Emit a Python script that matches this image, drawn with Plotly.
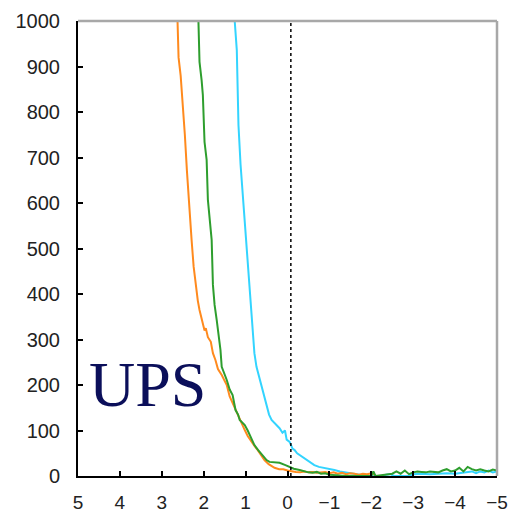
import plotly.graph_objects as go

# Three distributions plotted against a reversed x axis (5 .. -5)
cyan_x = [1.28, 1.26, 1.21, 1.17, 1.12, 1.07, 1.02, 0.98, 0.93, 0.88, 0.83, 0.79, 0.74, 0.69,
          0.63, 0.58, 0.50, 0.44, 0.38, 0.30, 0.19, 0.12, 0.06, 0.02, -0.05, -0.12, -0.17,
          -0.23, -0.29, -0.38, -0.48, -0.56, -0.64, -0.75, -0.88, -1.00, -1.12, -1.25, -1.4,
          -1.5, -1.6, -1.7, -1.8, -1.9, -2.3, -2.35, -2.45, -2.55, -2.9, -3.0, -3.2, -3.4,
          -3.6, -3.8, -4.0, -4.2, -4.4, -4.5, -4.6, -4.7, -4.8, -4.9, -5.0]
cyan_y = [1050, 1000, 936, 771, 684, 618, 560, 519, 457, 387, 321, 270, 240, 222,
          200, 180, 156, 135, 123, 115, 105, 95, 100, 80, 75, 60, 57,
          50, 46, 40, 35, 28, 24, 20, 18, 15, 13, 10, 8,
          6, 5, 3, 2, 0, 0, 3, 4, 0, 0, 4, 5, 4,
          5, 6, 5, 8, 10, 6, 10, 8, 12, 8, 10]

orange_x = [2.64, 2.62, 2.60, 2.55, 2.50, 2.45, 2.40, 2.36, 2.33, 2.29, 2.24, 2.19, 2.14,
            2.10, 2.05, 2.01, 1.98, 1.95, 1.90, 1.83, 1.78, 1.72, 1.66, 1.57, 1.50, 1.45,
            1.38, 1.31, 1.24, 1.17, 1.10, 1.02, 0.95, 0.86, 0.78, 0.71, 0.63, 0.55, 0.45,
            0.38, 0.31, 0.20, 0.10, 0.00, -0.10, -0.20, -0.30, -0.40, -0.50, -0.60, -0.70,
            -0.80, -0.90, -1.0, -1.1, -1.2, -1.3, -1.4, -1.5, -1.6, -1.7, -1.8, -1.9,
            -2.0, -2.07]
orange_y = [1050, 1000, 920, 880, 820, 750, 670, 610, 575, 520, 460, 420, 385,
            365, 345, 335, 320, 325, 305, 295, 270, 255, 235, 222, 208, 200,
            175, 160, 145, 130, 118, 101, 88, 75, 65, 57, 45, 35, 26,
            22, 18, 15, 15, 12, 10, 9, 8, 10, 8, 9, 7,
            8, 9, 6, 8, 5, 7, 4, 6, 5, 3, 5, 4,
            6, 3]

green_x = [2.14, 2.12, 2.10, 2.05, 2.02, 1.98, 1.93, 1.90, 1.86, 1.81, 1.78, 1.74, 1.69,
           1.64, 1.60, 1.57, 1.50, 1.45, 1.38, 1.31, 1.24, 1.18, 1.14, 1.08, 1.02, 0.95,
           0.90, 0.85, 0.79, 0.70, 0.60, 0.50, 0.43, 0.30, 0.19, 0.05, -0.05, -0.15, -0.29,
           -0.4, -0.5, -0.6, -0.7, -0.8, -0.9, -1.0, -1.2, -1.4, -2.0, -2.05, -2.1, -2.5,
           -2.6, -2.7, -2.8, -2.9, -3.0, -3.1, -3.2, -3.3, -3.4, -3.5, -3.6, -3.7, -3.8,
           -3.9, -4.0, -4.1, -4.2, -4.3, -4.4, -4.5, -4.6, -4.7, -4.8, -4.9, -5.0]
green_y = [1050, 1000, 910, 870, 837, 734, 695, 607, 560, 519, 420, 376, 343,
           310, 277, 240, 225, 211, 190, 178, 145, 135, 123, 118, 112, 100,
           90, 80, 68, 57, 46, 35, 31, 30, 29, 24, 20, 16, 13,
           10, 8, 7, 9, 5, 6, 3, 2, 0, 0, 10, 0, 5,
           10, 5, 12, 4, 8, 10, 9, 8, 10, 9, 8, 12, 15,
           10, 12, 18, 10, 20, 15, 12, 15, 12, 10, 14, 12]

x_ticks = [5, 4, 3, 2, 1, 0, -1, -2, -3, -4, -5]
x_tick_text = ["5", "4", "3", "2", "1", "0", "\u22121", "\u22122", "\u22123", "\u22124", "\u22125"]
y_ticks = [0, 100, 200, 300, 400, 500, 600, 700, 800, 900, 1000]
zero_line_x = -0.08

fig = go.Figure()
fig.add_trace(go.Scatter(x=cyan_x, y=cyan_y, mode="lines",
                         line=dict(color="#33D4FF", width=2)))
fig.add_trace(go.Scatter(x=orange_x, y=orange_y, mode="lines",
                         line=dict(color="#FF8A1E", width=2)))
fig.add_trace(go.Scatter(x=green_x, y=green_y, mode="lines",
                         line=dict(color="#2E9E2E", width=2)))

# dotted reference line near zero
fig.add_shape(type="line", xref="x", yref="y", x0=zero_line_x, x1=zero_line_x, y0=0, y1=1000,
              line=dict(color="black", width=1.5, dash="dot"))
# gray top and right frame
fig.add_shape(type="line", xref="paper", yref="paper", x0=0, x1=1, y0=1, y1=1,
              line=dict(color="#A8A8A8", width=2.5))
fig.add_shape(type="line", xref="paper", yref="paper", x0=1, x1=1, y0=0, y1=1,
              line=dict(color="#A8A8A8", width=2.5))

fig.add_annotation(text="UPS", xref="paper", yref="paper", x=0.022, y=0.119,
                   xanchor="left", yanchor="bottom", showarrow=False,
                   font=dict(family="Liberation Serif, Times New Roman, serif",
                             size=64, color="#0B0F5A"))

fig.update_xaxes(range=[5, -5], tickvals=x_ticks, ticktext=x_tick_text,
                 ticks="inside", ticklen=5, tickwidth=2, tickcolor="black",
                 showline=True, linecolor="black", linewidth=2, showgrid=False,
                 zeroline=False, ticklabelstandoff=8, automargin=False,
                 ticklabeloverflow="allow",
                 tickfont=dict(family="Liberation Sans, Arial, sans-serif", size=19, color="#222"))
fig.update_yaxes(range=[0, 1000], tickvals=y_ticks,
                 ticks="inside", ticklen=5, tickwidth=2, tickcolor="black",
                 showline=True, linecolor="black", linewidth=2, showgrid=False,
                 zeroline=False, ticklabelstandoff=12, automargin=False,
                 ticklabeloverflow="allow",
                 tickfont=dict(family="Liberation Sans, Arial, sans-serif", size=20, color="#222"))

fig.update_layout(width=508, height=515, showlegend=False,
                  margin=dict(l=78, r=11, t=21, b=39),
                  paper_bgcolor="white", plot_bgcolor="white")

fig.write_html("out.html")
